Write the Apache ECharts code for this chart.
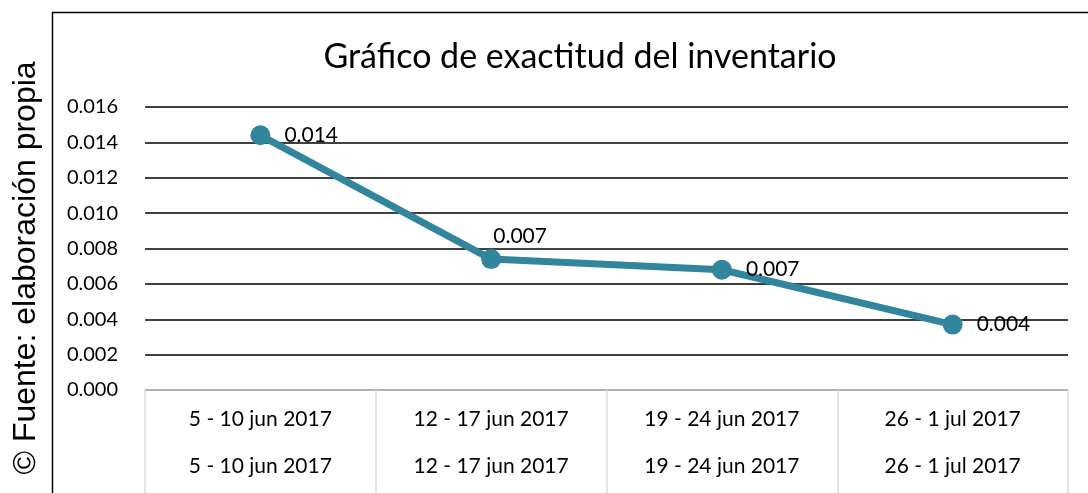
<!DOCTYPE html>
<html>
<head>
<meta charset="utf-8">
<script src="https://cdn.jsdelivr.net/npm/echarts@6/dist/echarts.min.js"></script>
<style>
  html, body { margin: 0; padding: 0; background: #fff; }
  #chart { width: 1088px; height: 493px; }
</style>
</head>
<body>
<div id="chart"></div>
<script>
const weeks = ["5 - 10 jun 2017", "12 - 17 jun 2017", "19 - 24 jun 2017", "26 - 1 jul 2017"]
const accuracy = [0.0144, 0.0074, 0.0068, 0.0037]
const yTicks = { min: 0, max: 0.016, step: 0.002 }
const labelPlacement = ["right", "top", "right", "right"]

const lineColor = "#31859c"
const font = "Lato"

const chart = echarts.init(document.getElementById("chart"))

chart.setOption({
	backgroundColor: "#fff",
	animation: false,
	title: {
		text: "Gráfico de exactitud del inventario",
		left: 575,
		textAlign: "center",
		top: 35,
		textStyle: { fontFamily: font, fontSize: 34, fontWeight: "normal", color: "#000" },
	},
	graphic: [
		{
			type: "rect",
			left: 50,
			top: 10,
			shape: { width: 1100, height: 520 },
			style: { fill: "none", stroke: "#000", lineWidth: 1.5 },
		},
		{
			type: "text",
			x: 26,
			y: 268,
			rotation: Math.PI / 2,
			style: {
				text: "© Fuente: elaboración propia",
				fontFamily: "Liberation Sans",
				fontSize: 32,
				fill: "#000",
				align: "center",
				verticalAlign: "middle",
			},
		},
	],
	grid: { left: 145, right: 20, top: 107, bottom: 103 },
	xAxis: {
		type: "category",
		data: weeks,
		boundaryGap: true,
		axisLine: { lineStyle: { color: "#d9d9d9", width: 1.5 } },
		axisTick: { show: true, length: 110, lineStyle: { color: "#d9d9d9", width: 1.5 } },
		axisLabel: {
			interval: 0,
			margin: 6,
			fontFamily: font,
			fontSize: 21,
			color: "#000",
			lineHeight: 47,
			formatter: (v) => v + "\n" + v,
		},
	},
	yAxis: {
		type: "value",
		min: yTicks.min,
		max: yTicks.max,
		interval: yTicks.step,
		axisLine: { show: false },
		axisTick: { show: false },
		splitLine: { lineStyle: { color: "#000", width: 1.5 } },
		axisLabel: {
			margin: 27,
			fontFamily: font,
			fontSize: 20,
			color: "#000",
			formatter: (v) => v.toFixed(3),
		},
	},
	series: [
		{
			type: "line",
			data: accuracy.map((v, i) => ({
				value: v,
				label: labelPlacement[i] === "top"
					? { position: "top", offset: [29, 0], distance: 2 }
					: { position: "right", distance: 14 },
			})),
			symbol: "circle",
			symbolSize: 20,
			itemStyle: { color: lineColor },
			lineStyle: { color: lineColor, width: 7 },
			label: {
				show: true,
				fontFamily: font,
				fontSize: 21,
				color: "#000",
				formatter: (p) => p.value.toFixed(3),
			},
			z: 3,
		},
	],
})
</script>
</body>
</html>
